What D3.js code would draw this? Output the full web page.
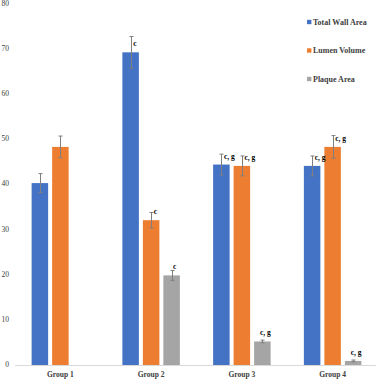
<!DOCTYPE html>
<html><head><meta charset="utf-8">
<script src="https://cdn.jsdelivr.net/npm/d3@7"></script>
<style>
html,body{margin:0;padding:0;background:#fff;}
svg{display:block;}
</style></head>
<body>
<svg id="c" width="376" height="380" font-family="'Liberation Serif', 'Times New Roman', Times, serif"></svg>
<script>
const groups = ["Group 1","Group 2","Group 3","Group 4"];
const series = ["Total Wall Area","Lumen Volume","Plaque Area"];
const colors = ["#4472C4","#ED7D31","#A5A5A5"];
const totalWall = [40.2, 69.1, 44.3, 44.0];
const lumen = [48.2, 32.0, 44.0, 48.2];
const plaque = [null, 19.8, 5.2, 0.9];
const totalWallErr = [2.1, 3.5, 2.3, 2.2];
const lumenErr = [2.4, 1.7, 2.2, 2.5];
const plaqueErr = [null, 1.1, 0.3, 0.2];
const totalWallLabel = ["", "c", "c, g", "c, g"];
const lumenLabel = ["", "c", "c, g", "c, g"];
const plaqueLabel = ["", "c", "c, g", "c, g"];
const yTicks = [0,10,20,30,40,50,60,70,80];

const values = [totalWall, lumen, plaque];
const errs = [totalWallErr, lumenErr, plaqueErr];
const labels = [totalWallLabel, lumenLabel, plaqueLabel];

const FONT = "'Liberation Serif', 'Times New Roman', Times, serif";
const svg = d3.select("#c");
const y = d3.scaleLinear().domain([0,80]).range([365,3]);
const x0 = d3.scaleBand().domain(groups).range([15,378]).padding(0);
const x1 = d3.scaleBand().domain(series).range([-28.75,28.75]).paddingInner(0.195).paddingOuter(0);

// y tick labels
svg.append("g").selectAll("text").data(yTicks).join("text")
  .attr("x", 9).attr("y", d=>Math.max(y(d), 4)).attr("dy","0.33em")
  .attr("text-anchor","end").attr("font-size","7.5px").attr("fill","#404040")
  .attr("font-family", FONT)
  .text(d=>d);

// baseline axis
svg.append("line").attr("x1",15).attr("x2",376).attr("y1",y(0)+0.5).attr("y2",y(0)+0.5)
  .attr("stroke","#d9d9d9").attr("stroke-width",1);

const pts = [];
series.forEach((s,si)=>{
  groups.forEach((g,gi)=>{
    const v = values[si][gi];
    if (v==null) return;
    pts.push({s, si, g, v, e: errs[si][gi], lab: labels[si][gi]});
  });
});
const cx = d => x0(d.g) + x0.bandwidth()/2 + x1(d.s);

svg.append("g").selectAll("rect").data(pts).join("rect")
  .attr("x", d=>cx(d)).attr("width", x1.bandwidth())
  .attr("y", d=>y(d.v)).attr("height", d=>y(0)-y(d.v))
  .attr("fill", d=>colors[d.si]);

// error bars
const eb = svg.append("g").attr("stroke","#7f7f7f").attr("stroke-width",1);
pts.forEach(d=>{
  const m = Math.round(cx(d) + x1.bandwidth()/2) + 0.5;
  eb.append("line").attr("x1",m).attr("x2",m).attr("y1",y(d.v+d.e)).attr("y2",y(d.v-d.e));
  eb.append("line").attr("x1",m-2).attr("x2",m+2).attr("y1",y(d.v+d.e)).attr("y2",y(d.v+d.e));
  eb.append("line").attr("x1",m-2).attr("x2",m+2).attr("y1",y(d.v-d.e)).attr("y2",y(d.v-d.e));
});

// data labels: beside the error bar if it reaches the label, else centred above
const besideErr = d => y(d.v + d.e) < y(d.v) - 7;
svg.append("g").selectAll("text").data(pts.filter(d=>d.lab)).join("text")
  .attr("x", d=>cx(d) + x1.bandwidth()/2 + (besideErr(d) ? 2.5 : 3))
  .attr("y", d=>y(d.v) - 6)
  .attr("text-anchor", d=>besideErr(d) ? "start" : "middle")
  .attr("font-size","7.5px").attr("font-weight","bold").attr("fill","#000")
  .attr("font-family", FONT)
  .text(d=>d.lab);

// group labels
svg.append("g").selectAll("text").data(groups).join("text")
  .attr("x", d=>x0(d)+x0.bandwidth()/2).attr("y", 377)
  .attr("text-anchor","middle").attr("font-size","7.5px").attr("font-weight","bold").attr("fill","#404040")
  .attr("font-family", FONT)
  .text(d=>d);

// legend
const lg = svg.append("g");
series.forEach((s,i)=>{
  const yy = 22 + i*28.5;
  lg.append("rect").attr("x",307).attr("y",yy-2.2).attr("width",4.4).attr("height",4.4).attr("fill",colors[i]);
  lg.append("text").attr("x",313).attr("y",yy).attr("dy","0.35em")
    .attr("font-size","8px").attr("font-weight","bold").attr("fill","#404040")
    .attr("font-family", FONT).text(s);
});
</script>
</body></html>
